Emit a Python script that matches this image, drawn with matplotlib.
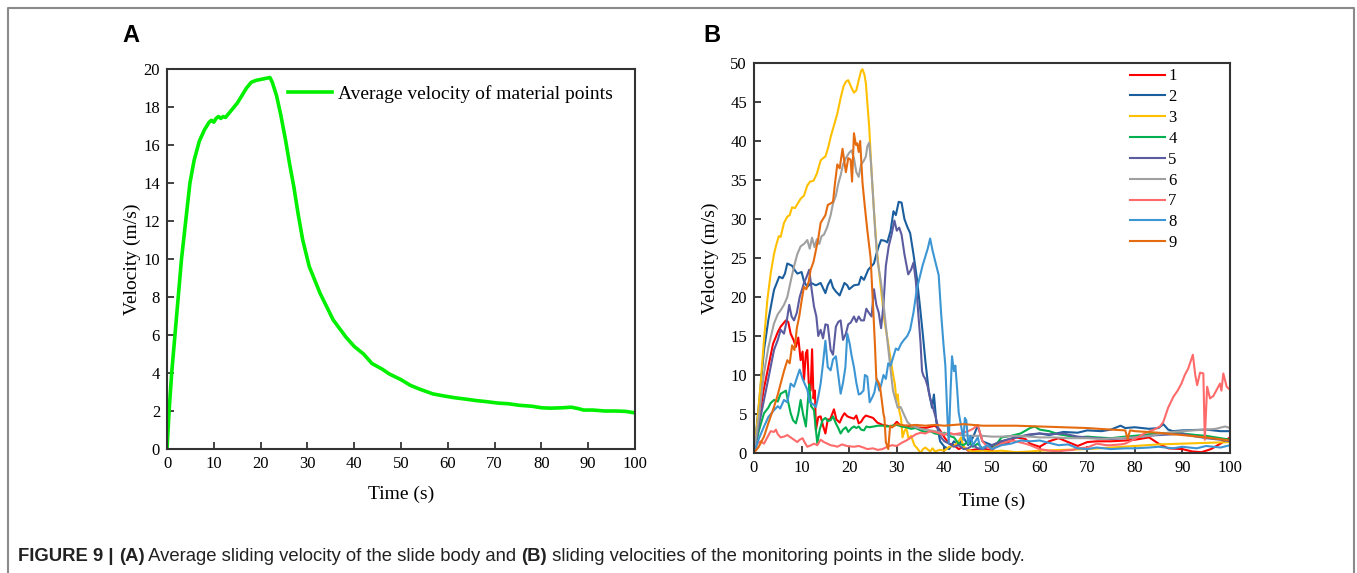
import matplotlib
matplotlib.use("Agg")
import matplotlib.pyplot as plt
from matplotlib.lines import Line2D

# ---------------- data ----------------
avg_t = [0, 0.45, 1.0, 1.7, 2.4, 3.1, 4.0, 4.9, 5.8, 6.9, 8, 9, 9.5, 10, 10.5, 11, 11.5, 12, 12.5,
         13, 14, 15, 16, 17, 18, 19, 20, 21, 22, 22.5, 23.4, 24.3, 25.3, 26.2, 27.1, 28, 29, 30.4,
         32.7, 35.5, 38.2, 40, 42, 43.8, 46, 47.5, 50, 52, 54, 56.8, 59, 61.4, 64, 66, 68, 70.6,
         73, 75.3, 78, 80, 82, 84.5, 86.4, 88, 89, 91, 93.5, 96, 98, 100]
avg_v = [0, 2.0, 4.0, 6.0, 8.0, 10.0, 12.0, 14.0, 15.2, 16.2, 16.8, 17.2, 17.3, 17.2, 17.4, 17.5,
         17.4, 17.5, 17.45, 17.6, 17.9, 18.2, 18.6, 19.0, 19.3, 19.4, 19.45, 19.5, 19.55, 19.3,
         18.6, 17.6, 16.3, 15.0, 13.8, 12.4, 11.0, 9.6, 8.2, 6.8, 5.9, 5.4, 5.0, 4.5, 4.2, 3.95,
         3.65, 3.35, 3.15, 2.9, 2.8, 2.7, 2.62, 2.55, 2.5, 2.42, 2.38, 2.3, 2.25, 2.17, 2.15, 2.17,
         2.2, 2.12, 2.05, 2.05, 2.0, 2.0, 1.98, 1.9]

point_1 = [(0,0),(1,4),(2,8),(3,11),(4,14),(5,15.5),(5.6,16.2),(6.7,17),(7.2,16.8),(7.7,15.3),(8.3,14.5),(8.8,13.6),(9.3,14.8),(9.8,11.9),(10.2,13),(10.5,9.4),(10.9,12.8),(11.2,13.2),(11.5,9),(11.9,8),(12.2,13.3),(12.5,7),(12.8,8),(13,2.9),(13.5,4.6),(14,4.7),(14.5,3.5),(15,2.5),(15.5,4.3),(16,4.3),(16.8,5.6),(17.3,4.3),(18,3.9),(18.5,4.6),(19,5.1),(19.6,4.7),(20,4.6),(21,4.4),(21.5,4.8),(22,3.8),(22.5,4.0),(23,4.5),(23.5,4.8),(24,4.7),(25,4.5),(25.9,3.9),(27,3.6),(28,3.5),(29,3.3),(30,4),(31,3.4),(32,3.5),(34,3.3),(36,3.2),(38,3.5),(39,3),(40,2),(41,1.2),(42,1),(43,0.5),(44,0.8),(45,0.3),(46,0.4),(48,0.6),(50,0.3),(51,1),(52,1.5),(53,1.2),(55,2),(57,1.8),(58,1.2),(60,0.8),(62,1.5),(64,1.9),(66,1.4),(68,0.9),(70,1.4),(72,1.5),(75,1.5),(78,1.6),(80,1.7),(83,2.0),(85,1.2),(87,0.6),(90,0.5),(92,0.2),(94,0.1),(96,0.5),(98,1.2),(100,2.0)]
point_2 = [(0,0),(1,6),(2.1,13.2),(3,17),(4.2,20.9),(5.3,22.6),(6,22.4),(6.5,23),(7,24.3),(8,24),(8.5,23.5),(9.1,23),(10,23.2),(10.5,22),(11.2,21.3),(12,21.8),(13,21.5),(14,21.8),(15,20.5),(15.5,21.5),(16.1,22.2),(16.6,21.2),(17.2,20.7),(18,20.2),(18.5,21),(19,21.8),(19.6,21.5),(20,21),(21,21.5),(22,21.6),(22.5,22.6),(23.1,22.2),(24,23.5),(25.2,24.3),(25.7,25.5),(26.2,26.5),(26.7,27.3),(27.5,27.2),(28,27),(28.7,28.5),(29.3,31),(29.8,30.5),(30.4,32.2),(31,32.1),(31.6,30),(32.2,29),(32.8,28.2),(33.5,25.5),(34.2,22.5),(34.9,18.6),(35.5,15),(36,11.8),(36.7,8),(37.4,5.8),(37.8,7.5),(38.3,4),(39.1,1.5),(40,0.8),(41,0.5),(42,1.5),(43,1),(44,2),(45,1),(46,2),(47,3.5),(48,1.5),(50,1),(52,1.5),(55,2),(58,2.3),(60,2.5),(62,2.3),(65,2.7),(68,2.6),(70,2.9),(73,2.8),(75,3.0),(77,3.5),(78,3.2),(80,3.3),(83,3.1),(85,3.2),(86,3.7),(87,3.0),(88,2.8),(90,2.9),(95,3.0),(98,2.8),(100,2.8)]
point_3 = [(0,0),(0.7,4),(1.4,8.9),(2.1,14.5),(2.8,19.6),(3.5,23),(4.2,25.5),(4.6,26.5),(5.2,27.8),(5.6,27.7),(6.3,29.5),(7,30.3),(7.5,30.5),(8,31.5),(8.6,31.4),(9.1,31.9),(9.8,32.6),(10.5,33),(11.2,34.3),(11.8,34.8),(12.5,34.9),(13.2,35.8),(14,37.5),(14.5,37.8),(15,38),(15.6,39.2),(16.1,40.5),(16.8,42),(17.5,43.5),(18.2,45.5),(18.8,47),(19.3,47.6),(19.8,47.8),(20.5,46.8),(21,46.2),(21.5,46.5),(22,47.8),(22.5,49),(22.8,49.2),(23.2,48.5),(23.5,47.4),(24.2,41.8),(24.7,36),(25.2,31.1),(25.8,26),(26.7,20.9),(27.4,17),(28.1,14.4),(28.7,12),(29.2,10.1),(29.6,8.8),(29.9,6.8),(30.2,7.5),(30.5,5.5),(30.9,4.4),(31.2,2),(31.6,2.8),(32,3.2),(32.5,1.8),(33,2.2),(33.7,1.0),(34.3,0.6),(35,0),(35.5,0.5),(36,0.7),(37,0.2),(37.5,0.6),(38,0.2),(39,0.4),(40,0.3),(41,0.8),(42,0.9),(43,1.5),(43.5,2),(44,0.8),(45,0.4),(46,0.2),(48,0.3),(50,0.2),(52,0.3),(55,0.1),(58,0.2),(60,0.3),(65,0.4),(70,0.5),(75,0.7),(80,0.9),(85,1.1),(90,1.2),(95,1.3),(100,1.4)]
point_4 = [(0,0),(1,2.8),(2.1,5.1),(3,5.8),(3.5,6.4),(4.2,6.8),(5,6.6),(5.6,7.6),(6.2,7.8),(6.7,8),(7.2,6.5),(7.7,5.1),(8.2,4.2),(8.8,3.8),(9.3,5),(9.8,6.8),(10.3,5),(10.9,3.4),(11.3,6.5),(11.6,8.8),(12,6),(12.6,5.5),(13,3),(13.3,1.2),(13.8,3),(14.4,4.2),(15,4.5),(15.5,4.1),(16.1,4.2),(16.6,4.7),(17.2,3.8),(17.7,3.2),(18.2,2.5),(18.7,3.0),(19.3,3.3),(19.8,2.7),(20.5,3.2),(21,3.4),(21.5,3.2),(22,3.4),(22.5,3.0),(23.1,2.9),(23.6,3.4),(24.2,3.3),(25.2,3.4),(26,3.5),(27,3.5),(28,3.4),(29,3.5),(30,3.6),(31,3.4),(32,3.3),(33,3.1),(34,3.2),(35,2.9),(36,2.7),(37,2.8),(38,2.5),(39,2.4),(40,2.6),(41,2.2),(42,2.0),(43,1.2),(44,1.0),(45,1.5),(46,0.8),(47,1.2),(48,0.6),(49,0.9),(50,0.5),(51,1.2),(52,2.0),(54,2.2),(56,2.5),(58,3.2),(59,3.4),(60,3.0),(62,2.8),(64,2.4),(66,2.2),(68,2.0),(70,2.1),(72,2.0),(75,1.9),(78,2.1),(80,2.2),(83,2.4),(85,2.5),(88,2.6),(90,2.5),(93,2.3),(95,2.2),(98,1.9),(100,1.7)]
point_5 = [(0,0),(1,3.5),(2.1,6.8),(3,9.5),(4.2,13.2),(5,14.5),(5.6,15.8),(6.3,15.3),(6.9,17),(7.4,19),(7.9,17.5),(8.4,17),(9,18),(9.6,20),(10.5,21.8),(11,22.5),(11.6,23.5),(12.1,21),(12.6,18.8),(13.1,17.5),(13.5,15),(14,15.8),(14.5,14.7),(15,16.5),(15.5,16.4),(16.1,13.2),(16.6,12.6),(17.2,16.2),(17.7,16.8),(18.2,17),(18.7,14.5),(19.3,15.3),(19.8,16.5),(20.3,16.7),(21,17.5),(21.5,16.8),(22,17.5),(22.5,17),(23.1,17),(23.6,18.5),(24.2,17.9),(24.7,17.5),(25.2,21),(25.7,19),(26.2,18),(26.7,16),(27.2,19),(27.7,24),(28.3,26.5),(28.9,28),(29.5,29.8),(30,28.5),(30.5,28.9),(31,28),(31.6,25.5),(32.4,22.9),(33,23.5),(33.5,24.4),(34,22),(34.5,18),(35,14),(35.3,10.5),(35.6,9.9),(36,9.5),(36.5,8.5),(37,7),(37.7,5.6),(38.2,4.5),(38.8,3),(39.3,2),(40,1.5),(41,1.2),(42,0.8),(43,1),(44,0.5),(45,0.6),(46,1),(47,0.6),(48,0.5),(50,1),(52,1.5),(55,2),(58,2.4),(60,2.5),(62,2.4),(65,2.5),(68,2.1),(70,2.0),(72,1.9),(75,1.8),(78,1.9),(80,2.0),(83,2.2),(85,2.3),(88,2.4),(90,2.5),(92,2.2),(95,1.9),(98,1.7),(100,1.5)]
point_6 = [(0,0),(1,4.5),(2.1,10.2),(3,13.5),(4.2,16.6),(5,17.8),(5.6,18.3),(6.3,19),(7,20),(7.7,22),(8.4,23.9),(9.1,25.5),(9.8,26.5),(10.5,26.8),(11.2,27.3),(11.7,26.2),(12.2,27.6),(12.7,26.4),(13.2,27.4),(13.7,26.8),(14.2,27.8),(14.7,28),(15.4,29),(16.1,30.5),(16.6,32),(17.2,33),(17.7,34.5),(18.2,35.6),(18.7,37),(19.3,37.8),(20,38.5),(20.5,38.8),(21,37.8),(21.5,36),(22,35.4),(22.5,37),(23,37.4),(23.5,38),(23.8,39.3),(24.2,39.8),(24.6,37),(25,33),(25.5,28),(26,24.5),(26.7,21.8),(27.4,18),(28.1,14),(28.8,10.1),(29.2,8),(29.6,7.1),(30.2,5.8),(30.8,5.9),(31.6,4.8),(32.2,4),(33,3.5),(34,3.3),(35,3.1),(36,3.0),(38,2.8),(40,2.5),(42,2.4),(45,2.2),(48,2.2),(50,2.1),(52,2.1),(55,2.2),(58,2.1),(60,2.0),(63,2.0),(66,1.9),(70,1.9),(73,1.8),(76,1.9),(80,2.0),(83,2.2),(85,2.4),(88,2.7),(90,2.8),(92,2.9),(95,3.0),(97,3.1),(99,3.4),(100,3.2)]
point_7 = [(0,0),(0.7,1.2),(1.4,1.5),(2.1,1.2),(2.8,2.0),(3.5,2.8),(4.2,2.7),(4.6,3.0),(5,2.4),(5.6,2.0),(6.3,2.1),(7,2.3),(7.7,2.0),(8.4,1.7),(9.1,1.4),(9.6,1.7),(10.2,1.9),(10.7,1.3),(11.2,0.8),(12,1.0),(12.6,1.2),(13.3,1.0),(14,1.7),(14.7,1.4),(15.4,1.2),(16.1,1.0),(17,0.9),(17.5,0.8),(18.5,1.1),(19.5,0.9),(21,0.8),(22,0.9),(23,0.7),(23.8,0.5),(25,0.6),(26,0.4),(27,0.5),(28,0.8),(29,1.0),(30,0.9),(31,1.3),(32,1.6),(33,2.0),(34,2.4),(35,2.6),(36,2.5),(37,2.8),(38,2.7),(39,2.5),(40,2.3),(41,2.6),(42,2.4),(43,2.5),(44,2.6),(45,2.8),(46,3.1),(47,3.6),(48,1.5),(49,0.8),(50,0.5),(51,0.9),(52,1.2),(54,1.6),(55,1.5),(57,1.2),(58,1.0),(60,0.5),(62,0.3),(64,0.2),(65,0.3),(67,0.4),(68,0.6),(70,0.7),(72,1.2),(74,1.0),(75,1.0),(77,1.1),(78,1.2),(80,1.8),(82,2.5),(84,3.0),(85.3,3.4),(86,4.0),(87,5.8),(88.1,7.2),(89,8.0),(89.8,8.9),(90.5,10),(91.2,10.8),(92.2,12.6),(92.7,10),(93.1,8.7),(93.7,10.3),(94.4,10.2),(94.7,1.7),(95.2,8.5),(95.8,7.0),(96.5,7.3),(97.2,8.1),(97.9,8.9),(98.2,8.0),(98.6,10.2),(99.3,8.5),(100,8.1)]
point_8 = [(0,0),(1,1.8),(2.1,3.4),(3,4.6),(4.2,5.5),(5,6.0),(5.5,5.7),(6.3,6.8),(7,6.5),(7.7,8.9),(8.4,8.5),(9.1,9.8),(9.6,10.7),(10.2,9.5),(10.7,8.8),(11.2,8.1),(11.7,6.5),(12.3,6.3),(13,5.9),(13.5,7.2),(14,8.9),(14.5,11.5),(15,14.4),(15.5,11),(16.1,10.6),(16.6,12),(17.2,12.4),(17.7,10),(18.2,7.6),(18.7,9),(19.2,11),(19.6,15.3),(20.1,14),(20.5,12.5),(21,11),(21.5,9),(22,7.5),(22.4,7.6),(23,8),(23.3,10),(23.8,9.8),(24.3,6.5),(24.9,7.2),(25.3,7.8),(25.8,9.5),(26.3,8),(26.7,8.7),(27.2,10),(27.7,9.5),(28.2,11.5),(28.7,11.2),(29.2,12.2),(29.8,13.4),(30.3,13.2),(30.9,14),(31.5,14.5),(32.2,15),(32.8,15.8),(33.5,18),(34.2,21),(34.8,22.5),(35.4,24),(36,25.2),(36.5,26.2),(37,27.5),(37.5,26),(38.1,24.5),(38.8,22.8),(39.3,18),(39.8,14),(40.2,11.2),(40.6,5),(40.9,1.3),(41.3,8),(41.6,12.4),(42,10.5),(42.3,11.2),(42.7,8),(43,5.2),(43.5,3.5),(44,1.7),(44.3,4.5),(44.6,4.2),(45,1.2),(45.5,2.2),(46,1.0),(47,2.0),(47.5,0.8),(48,0.6),(49,1.0),(50,0.5),(52,1.0),(54,1.2),(56,1.6),(58,1.5),(60,1.6),(62,1.3),(64,1.0),(66,1.1),(68,0.6),(70,0.5),(72,0.7),(75,0.5),(78,0.6),(80,0.6),(83,0.7),(85,0.8),(88,0.6),(90,0.8),(93,0.6),(95,0.9),(98,0.7),(100,1.0)]
point_9 = [(0,0),(1,0.8),(2.1,2.1),(3,3.8),(4.2,5.9),(5,7.5),(5.6,8.9),(6.3,10.5),(7,11.9),(7.5,11.5),(8,13.8),(8.5,13.2),(9,16),(9.5,17.5),(10,19.5),(10.5,21.3),(11,21),(11.5,22),(11.9,23.5),(12.5,24.5),(13,26),(13.5,27.5),(14,29.5),(14.5,30),(15,30.5),(15.5,31.8),(16.1,32),(16.6,32.2),(17,34.5),(17.5,37),(18,36.5),(18.6,39),(19.3,36),(19.8,37.8),(20.3,37.6),(20.6,34.8),(21,41),(21.4,39.5),(21.7,39.7),(22,38.6),(22.3,40),(22.8,34.6),(23.3,31.5),(23.8,28.6),(24.5,25),(25,19),(25.4,14),(25.7,9.5),(26.2,9),(26.5,8.4),(27,6),(27.2,5),(27.4,4.5),(27.7,1.4),(28.2,0.5),(28.6,3.5),(29,3.3),(30,3.7),(31,3.6),(32,3.5),(34,3.6),(36,3.5),(38,3.6),(40,3.5),(42,3.6),(44,3.7),(46,3.6),(48,3.5),(50,3.5),(55,3.5),(60,3.4),(65,3.3),(70,3.2),(75,3.0),(78,2.9),(78.5,1.8),(79,2.9),(80,2.8),(85,2.6),(88,2.4),(90,2.3),(95,2.0),(100,1.6)]

series_labels = ["1", "2", "3", "4", "5", "6", "7", "8", "9"]
series_colors = ["#FF0000", "#1B5E9E", "#FFC000", "#00B050", "#5B5BA0",
                 "#A0A0A0", "#FF6B6B", "#3C96D4", "#E56B10"]
series_points = [point_1, point_2, point_3, point_4, point_5, point_6, point_7, point_8, point_9]

x_ticks = list(range(0, 101, 10))
yA_ticks = list(range(0, 21, 2))
yB_ticks = list(range(0, 51, 5))

# ---------------- figure ----------------
W, H = 1357, 573
fig = plt.figure(figsize=(W / 100, H / 100), dpi=100)
fig.patch.set_facecolor("white")

serif = ["Liberation Serif", "DejaVu Serif"]
sans = ["Liberation Sans", "DejaVu Sans"]


def style_axes(ax, yticks, ymax, ylabelpad, xlabelpad):
    ax.set_xlim(0, 100)
    ax.set_ylim(0, ymax)
    ax.set_xticks(x_ticks)
    ax.set_yticks(yticks)
    ax.tick_params(direction="in", length=5, width=1.2, colors="#222222", pad=5,
                   labelsize=12, labelcolor="black", top=False, right=False)
    for lab in ax.get_xticklabels() + ax.get_yticklabels():
        lab.set_fontfamily(serif)
    for sp in ax.spines.values():
        sp.set_linewidth(1.5)
        sp.set_color("#333333")
    ax.set_xlabel("Time (s)", fontsize=14, family=serif, labelpad=xlabelpad)
    ax.set_ylabel("Velocity (m/s)", fontsize=14, family=serif, labelpad=ylabelpad)


# Panel A
axA = fig.add_axes([167 / W, 1 - 449 / H, 468 / W, 380 / H])
axA.plot(avg_t, avg_v, color="#00F000", lw=2.6, label="Average velocity of material points")
style_axes(axA, yA_ticks, 20, ylabelpad=1.5, xlabelpad=10)
legA = axA.legend(loc="upper left", bbox_to_anchor=(0.258, 0.957), frameon=False,
                  borderpad=0, borderaxespad=0, handlelength=2.3, handletextpad=0.3,
                  prop={"family": serif, "size": 14})

# Panel B
axB = fig.add_axes([754 / W, 1 - 453 / H, 476 / W, 390 / H])
for pts, col, lab in zip(series_points, series_colors, series_labels):
    xs = [p[0] for p in pts]
    ys = [p[1] for p in pts]
    axB.plot(xs, ys, color=col, lw=1.5, label=lab)
style_axes(axB, yB_ticks, 50, ylabelpad=8, xlabelpad=12)
legB = axB.legend(loc="upper left", bbox_to_anchor=(0.789, 0.986), frameon=False,
                  borderpad=0, borderaxespad=0, handlelength=2.1, handletextpad=0.22,
                  labelspacing=0.29, prop={"family": serif, "size": 12})

# Panel letters
fig.text(131 / W, 1 - 36 / H, "A", fontsize=17, fontweight="bold", family=sans,
         ha="center", va="center")
fig.text(712 / W, 1 - 36 / H, "B", fontsize=17, fontweight="bold", family=sans,
         ha="center", va="center")

# Figure border (top, left, right)
bx0, bx1, by = 8 / W, 1354 / W, 1 - 8 / H
fig.add_artist(Line2D([bx0, bx0, bx1, bx1], [0, by, by, 0], color="#8a8a8a", lw=1.5,
                      transform=fig.transFigure))

# Caption with mixed weights
pieces = [("FIGURE 9 | ", "bold"), ("(A)", "bold"),
          (" Average sliding velocity of the slide body and ", "normal"),
          ("(B)", "bold"),
          (" sliding velocities of the monitoring points in the slide body.", "normal")]
renderer = fig.canvas.get_renderer()
x = 18 / W
y = 1 - 561 / H
for txt, wt in pieces:
    t = fig.text(x, y, txt, fontsize=13.3, fontweight=wt, family=sans, ha="left",
                 va="baseline", color="#222222")
    bb = t.get_window_extent(renderer)
    x = bb.x1 / W

fig.savefig("out.png", dpi=100, facecolor="white")
